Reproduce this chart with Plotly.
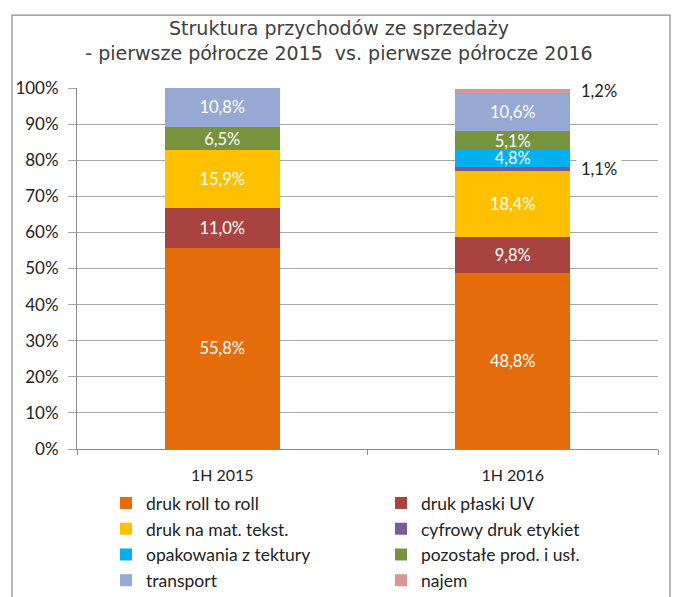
import plotly.graph_objects as go

categories = ["1H 2015", "1H 2016"]
series_names = ["druk roll to roll", "druk płaski UV", "druk na mat. tekst.",
                "cyfrowy druk etykiet", "opakowania z tektury", "pozostałe prod. i usł.",
                "transport", "najem"]
values_2015 = [55.8, 11.0, 15.9, 0.0, 0.0, 6.5, 10.8, 0.0]
values_2016 = [48.8, 9.8, 18.4, 1.1, 4.8, 5.1, 10.6, 1.2]
colors = ["#E46C0A", "#A9433F", "#FFC000", "#7A5A9C", "#00B0F0", "#77933C", "#95A9D3", "#D99694"]

SMALL = 2.0
fig = go.Figure()
cum = [0.0, 0.0]
annotations = []
for i, name in enumerate(series_names):
    vals = [values_2015[i], values_2016[i]]
    texts = [(f"{v:.1f}%".replace(".", ",") if v >= SMALL else "") for v in vals]
    fig.add_trace(go.Bar(
        x=categories, y=vals, name=name, marker=dict(color=colors[i], line=dict(width=0)),
        text=texts, textposition="inside", insidetextanchor="middle", textangle=0,
        constraintext="none", textfont=dict(color="white", size=16.5, family="Lato"),
        hoverinfo="skip", cliponaxis=False,
    ))
    for j, v in enumerate(vals):
        if 0 < v < SMALL:
            annotations.append(dict(
                x=categories[j], y=cum[j] + v / 2, xref="x", yref="y",
                text=f"{v:.1f}%".replace(".", ","), showarrow=False,
                xshift=86, font=dict(size=16.5, family="Lato", color="#222222"),
                bgcolor="white", borderpad=4,
            ))
        cum[j] += v

# outer frame
frame = [dict(type="rect", xref="paper", yref="paper",
              x0=-0.1119, x1=1.0207, y0=-0.45, y1=1.202,
              line=dict(color="#8C8C8C", width=1.2), fillcolor="rgba(0,0,0,0)", layer="below")]

fig.update_layout(
    width=678, height=597,
    margin=dict(l=77, r=20, t=88, b=148, autoexpand=False),
    barmode="stack", bargap=0.604,
    paper_bgcolor="white", plot_bgcolor="white",
    title=dict(text="Struktura przychodów ze sprzedaży<br>- pierwsze półrocze 2015  vs. pierwsze półrocze 2016",
               x=0.5, xref="container", xanchor="center",
               y=1 - 35 / 597, yref="container", yanchor="top",
               font=dict(size=19, family="DejaVu Sans", color="#404040")),
    font=dict(family="Lato", size=15, color="#333333"),
    legend=dict(orientation="h", x=(106 - 77) / 581, xanchor="left", y=-0.100, yanchor="top",
                entrywidth=230, entrywidthmode="pixels", traceorder="normal",
                font=dict(size=17.5, family="Lato", color="#222222"), itemclick=False),
    annotations=annotations,
    shapes=frame,
    showlegend=True,
)
fig.update_xaxes(showline=True, linecolor="#8C8C8C", linewidth=1, ticks="outside",
                 tickson="boundaries", ticklen=5, tickcolor="#8C8C8C", ticklabelstandoff=12,
                 tickfont=dict(size=16, family="Lato", color="#222222"), fixedrange=True)
fig.update_yaxes(range=[0, 100], dtick=10, ticksuffix="%", showgrid=True, gridcolor="#A6A6A6",
                 gridwidth=1, showline=True, linecolor="#8C8C8C", linewidth=1, ticks="outside",
                 ticklen=8, tickcolor="#A6A6A6", zeroline=False, ticklabelstandoff=6,
                 tickfont=dict(size=17, family="Lato", color="#222222"), fixedrange=True)

fig.write_html("out.html", config={"displayModeBar": False},
               post_script="document.body.style.margin='0px';")
